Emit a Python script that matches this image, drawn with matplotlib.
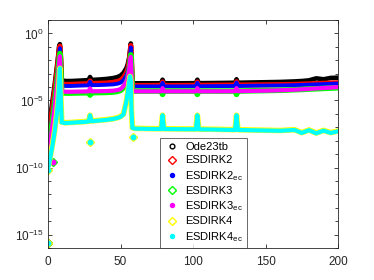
import numpy as np
import matplotlib
matplotlib.use('Agg')
import matplotlib.pyplot as plt
from matplotlib.lines import Line2D
from matplotlib.ticker import FixedLocator, NullFormatter, LogFormatterSciNotation

plt.rcParams['font.family'] = ['Liberation Sans', 'DejaVu Sans']
plt.rcParams['mathtext.fontset'] = 'custom'
plt.rcParams['mathtext.rm'] = 'Liberation Sans'
plt.rcParams['mathtext.it'] = 'Liberation Sans:italic'
plt.rcParams['mathtext.bf'] = 'Liberation Sans:bold'

# time knots (s), shared by all series
t = [0.5, 1.5, 3, 4.5, 6, 7, 7.6, 8.2, 8.8, 9.5,
     12, 16, 20, 25, 28, 29, 30, 35, 40, 45,
     48, 50, 52, 54, 55, 56, 56.6, 57.1, 57.6, 58.2,
     60, 70, 78, 79, 80, 90, 102, 103, 104, 115,
     129, 130, 131, 140, 150, 160, 170, 175, 180, 185,
     190, 195, 200]

# log10 of the error
err_ode23tb = [-7.0, -6.3, -5.1, -3.9, -2.6, -1.7, -1.0, -0.8, -1.6, -3.5,
               -3.55, -3.55, -3.53, -3.5, -3.48, -3.25, -3.47, -3.44, -3.4, -3.33,
               -3.25, -3.15, -2.95, -2.6, -2.3, -1.8, -1.25, -0.75, -1.7, -3.7,
               -3.72, -3.72, -3.72, -3.45, -3.72, -3.72, -3.71, -3.45, -3.71, -3.7,
               -3.68, -3.42, -3.68, -3.66, -3.64, -3.62, -3.58, -3.55, -3.5, -3.35,
               -3.42, -3.32, -3.3]
err_esdirk2 = [-7.5, -6.8, -5.6, -4.3, -3.0, -2.0, -1.3, -0.95, -1.9, -3.75,
               -3.8, -3.8, -3.78, -3.76, -3.75, -3.55, -3.74, -3.72, -3.7, -3.65,
               -3.58, -3.5, -3.3, -2.95, -2.65, -2.1, -1.5, -0.9, -1.9, -3.85,
               -3.88, -3.88, -3.88, -3.62, -3.88, -3.88, -3.87, -3.62, -3.87, -3.86,
               -3.85, -3.6, -3.85, -3.84, -3.83, -3.82, -3.8, -3.78, -3.76, -3.74,
               -3.72, -3.7, -3.68]
err_esdirk2ec = [-8.2, -7.4, -6.1, -4.8, -3.4, -2.4, -1.6, -1.1, -2.1, -3.9,
                 -3.92, -3.92, -3.9, -3.88, -3.87, -3.6, -3.86, -3.85, -3.83, -3.8,
                 -3.75, -3.68, -3.5, -3.15, -2.85, -2.3, -1.7, -1.05, -2.1, -3.95,
                 -3.95, -3.95, -3.95, -3.68, -3.95, -3.95, -3.94, -3.68, -3.94, -3.93,
                 -3.92, -3.66, -3.92, -3.9, -3.89, -3.88, -3.86, -3.84, -3.82, -3.8,
                 -3.78, -3.76, -3.74]
err_esdirk3 = [-8.6, -7.8, -6.6, -5.3, -3.9, -2.9, -2.1, -1.5, -2.7, -4.4,
               -4.45, -4.45, -4.44, -4.43, -4.42, -4.6, -4.42, -4.41, -4.4, -4.37,
               -4.32, -4.25, -4.05, -3.7, -3.4, -2.8, -2.2, -1.6, -2.8, -4.3,
               -4.3, -4.3, -4.3, -4.55, -4.3, -4.3, -4.3, -4.55, -4.3, -4.3,
               -4.3, -4.55, -4.3, -4.28, -4.26, -4.24, -4.2, -4.18, -4.15, -4.13,
               -4.1, -4.08, -4.05]
err_esdirk3ec = [-8.9, -8.1, -6.9, -5.6, -4.1, -3.1, -2.3, -1.7, -2.9, -4.3,
                 -4.35, -4.35, -4.34, -4.33, -4.32, -4.1, -4.32, -4.31, -4.3, -4.27,
                 -4.22, -4.15, -3.95, -3.6, -3.3, -2.7, -2.1, -1.75, -2.9, -4.3,
                 -4.32, -4.32, -4.32, -4.08, -4.32, -4.32, -4.32, -4.08, -4.32, -4.32,
                 -4.31, -4.08, -4.31, -4.29, -4.27, -4.24, -4.2, -4.17, -4.14, -4.1,
                 -4.07, -4.04, -4.0]
err_esdirk4 = [-9.8, -9.2, -8.3, -7.3, -6.0, -4.9, -3.7, -2.6, -4.6, -6.62,
               -6.66, -6.64, -6.61, -6.58, -6.55, -6.1, -6.53, -6.48, -6.43, -6.36,
               -6.28, -6.2, -6.02, -5.1, -4.4, -3.6, -3.2, -3.5, -5.8, -7.03,
               -7.08, -7.1, -7.11, -6.1, -7.11, -7.12, -7.13, -6.1, -7.13, -7.15,
               -7.18, -6.1, -7.18, -7.2, -7.22, -7.24, -7.18, -7.4, -7.2, -7.43,
               -7.23, -7.4, -7.28]
err_esdirk4ec = [-9.9, -9.3, -8.4, -7.4, -6.1, -5.0, -3.8, -2.6, -4.6, -6.65,
                 -6.68, -6.66, -6.63, -6.6, -6.57, -6.1, -6.55, -6.5, -6.45, -6.38,
                 -6.3, -6.22, -6.05, -5.1, -4.4, -3.6, -3.2, -3.5, -5.8, -7.05,
                 -7.1, -7.12, -7.13, -6.1, -7.13, -7.14, -7.15, -6.1, -7.15, -7.17,
                 -7.2, -6.1, -7.2, -7.22, -7.24, -7.26, -7.2, -7.42, -7.22, -7.45,
                 -7.25, -7.42, -7.3]

# isolated points: the initial value and a few stray steps
t_start = 0.0
err_start = -15.6
stray_t_esdirk3 = [3.3]
stray_err_esdirk3 = [-9.6]
stray_t_esdirk4 = [0.2, 29, 58.4]
stray_err_esdirk4 = [-10.2, -8.1, -7.75]

labels = ['Ode23tb', 'ESDIRK2', r'ESDIRK2$_{\mathregular{ec}}$', 'ESDIRK3',
          r'ESDIRK3$_{\mathregular{ec}}$', 'ESDIRK4', r'ESDIRK4$_{\mathregular{ec}}$']
colors = ['black', 'red', 'blue', '#00ff00', 'magenta', 'yellow', 'cyan']
markers = ['o', 'D', 'o', 'D', 'o', 'D', 'o']
filled = [False, False, True, False, True, False, True]
band = [3.3, 3.7, 2.8, 4.0, 3.0, 4.0, 3.0]

series = [err_ode23tb, err_esdirk2, err_esdirk2ec, err_esdirk3,
          err_esdirk3ec, err_esdirk4, err_esdirk4ec]
strays = [([], []), ([], []), ([], []),
          (stray_t_esdirk3, stray_err_esdirk3), (stray_t_esdirk3, stray_err_esdirk3),
          (stray_t_esdirk4, stray_err_esdirk4), (stray_t_esdirk4, stray_err_esdirk4)]

fig = plt.figure(figsize=(3.74, 2.8), dpi=100)
ax = fig.add_axes([48 / 374, 1 - 248 / 280, 290 / 374, 228 / 280])

handles = []
for err, (st, se), c, m, f, w, lab in zip(series, strays, colors, markers, filled, band, labels):
    ax.plot(t, 10.0 ** np.array(err), color=c, lw=w,
            solid_joinstyle='round', solid_capstyle='round')
    ms = 4.0 if m == 'D' else (3.2 if f else 3.8)
    mfc = c if f else 'none'
    ax.plot([t_start] + list(st), 10.0 ** np.array([err_start] + list(se)),
            ls='none', marker=m, ms=ms, mfc=mfc, mec=c, mew=1.0)
    handles.append(Line2D([], [], ls='none', marker=m, ms=ms * 0.9, mfc=mfc,
                          mec=c, mew=1.0, label=lab))

ax.set_yscale('log')
ax.set_xlim(0, 200)
ax.set_ylim(1e-16, 1e1)
ax.set_xticks([0, 50, 100, 150, 200])
ax.yaxis.set_major_locator(FixedLocator([1e-15, 1e-10, 1e-5, 1e0]))
ax.yaxis.set_major_formatter(LogFormatterSciNotation())
ax.yaxis.set_minor_locator(FixedLocator(10.0 ** np.arange(-16, 2)))
ax.yaxis.set_minor_formatter(NullFormatter())

for sp in ax.spines.values():
    sp.set_linewidth(0.6)
    sp.set_color('0.15')
ax.tick_params(which='both', direction='in', top=True, right=True,
               colors='0.15', labelsize=8.5, width=0.6)
ax.tick_params(which='major', length=3)
ax.tick_params(which='minor', length=2)
ax.tick_params(axis='x', pad=6)
ax.tick_params(axis='y', pad=3)

leg = ax.legend(handles=handles, loc='lower left', bbox_to_anchor=(112 / 290, 0),
                borderaxespad=0, fontsize=8, frameon=True, fancybox=False,
                handlelength=1.3, handletextpad=0.55, borderpad=0.4,
                labelspacing=0.3)
leg.get_frame().set_edgecolor('0.15')
leg.get_frame().set_linewidth(0.6)
leg.set_zorder(5)

fig.savefig('out.png', dpi=100)
